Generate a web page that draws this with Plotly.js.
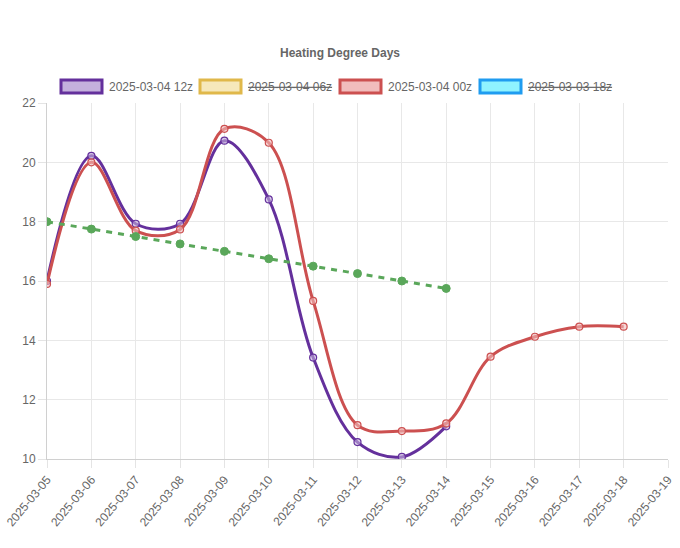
<!DOCTYPE html>
<html>
<head>
<meta charset="utf-8">
<script src="https://cdn.plot.ly/plotly-3.0.1.min.js"></script>
<style>
  html, body { margin: 0; padding: 0; background: #fff; }
  #chart { width: 680px; height: 548px; }
</style>
</head>
<body>
<div id="chart"></div>
<script>
// data
const dates = ['2025-03-05', '2025-03-06', '2025-03-07', '2025-03-08', '2025-03-09',
               '2025-03-10', '2025-03-11', '2025-03-12', '2025-03-13', '2025-03-14',
               '2025-03-15', '2025-03-16', '2025-03-17', '2025-03-18'];
const run12z = [16.0, 20.22, 17.93, 17.93, 20.73, 18.75, 13.42, 10.57, 10.07, 11.1];
const run00z = [15.9, 20.0, 17.7, 17.74, 21.13, 20.66, 15.33, 11.14, 10.94, 11.2,
                13.45, 14.12, 14.46, 14.46];
const normal = [18.0, 17.75, 17.5, 17.25, 17.0, 16.75, 16.5, 16.25, 16.0, 15.75];
const yTicks = [10, 12, 14, 16, 18, 20, 22];

// legend entries (chart.js style, hidden ones struck through)
const legendItems = [
    {label: '2025-03-04 12z', border: '#64309c', fill: '#c4b0dd', hidden: false},
    {label: '2025-03-04 06z', border: '#e0b84a', fill: '#f6e8bb', hidden: true},
    {label: '2025-03-04 00z', border: '#cc5050', fill: '#f1bcbc', hidden: false},
    {label: '2025-03-03 18z', border: '#1f9cf0', fill: '#8ff3ff', hidden: true}
];

const W = 680, H = 548;
const M = {l: 47, r: 12, t: 103, b: 89};
// pixel -> paper helpers for the hand-made legend
function px(x){ return (x - M.l) / (W - M.l - M.r) }
function py(y){ return (H - M.b - y) / (H - M.t - M.b) }

const purple = '#64309c';
const red = '#cc5050';
const green = '#5aa75a';

var traces = [
    {
        x: dates.slice(0, run12z.length), y: run12z,
        name: '2025-03-04 12z', type: 'scatter', mode: 'lines+markers',
        line: {color: purple, width: 3, shape: 'spline', smoothing: 1},
        marker: {size: 7, color: 'rgba(196,176,221,0.6)', line: {color: purple, width: 1.2}},
        showlegend: false
    },
    {
        x: dates, y: run00z,
        name: '2025-03-04 00z', type: 'scatter', mode: 'lines+markers',
        line: {color: red, width: 3, shape: 'spline', smoothing: 1},
        marker: {size: 7, color: 'rgba(241,188,188,0.6)', line: {color: red, width: 1.2}},
        showlegend: false
    },
    {
        x: dates.slice(0, normal.length), y: normal,
        name: 'Normal', type: 'scatter', mode: 'lines+markers',
        line: {color: green, width: 3, dash: '6px,6px'},
        marker: {size: 8, color: green, line: {color: green, width: 1}},
        showlegend: false
    }
];

var shapes = [];
var annotations = [{
    text: '<b>Heating Degree Days</b>',
    xref: 'paper', yref: 'paper', x: px(340), y: py(53),
    xanchor: 'center', yanchor: 'middle', showarrow: false,
    font: {size: 12, color: '#666'}
}];

const boxX = [61, 200, 340, 480];
legendItems.forEach((item, i) => {
    const x0 = boxX[i];
    shapes.push({
        type: 'rect', xref: 'paper', yref: 'paper',
        x0: px(x0), x1: px(x0 + 41), y0: py(80), y1: py(93),
        fillcolor: item.fill, line: {color: item.border, width: 3}
    });
    annotations.push({
        text: item.hidden ? '<s>' + item.label + '</s>' : item.label,
        xref: 'paper', yref: 'paper', x: px(x0 + 46), y: py(87),
        xanchor: 'left', yanchor: 'middle', showarrow: false,
        font: {size: 12, color: '#666'}
    });
});

var layout = {
    width: W, height: H,
    margin: M,
    paper_bgcolor: '#fff', plot_bgcolor: '#fff',
    font: {family: 'Liberation Sans, Arial, sans-serif', size: 12, color: '#666'},
    showlegend: false,
    xaxis: {
        type: 'date',
        range: ['2025-03-05', '2025-03-19'],
        dtick: 86400000,
        tick0: '2025-03-05',
        tickformat: '%Y-%m-%d',
        tickangle: -50,
        ticks: 'outside', ticklen: 8, tickcolor: '#e4e4e4',
        showgrid: true, gridcolor: '#e8e8e8',
        showline: true, linecolor: '#d0d0d0',
        zeroline: false,
        tickfont: {size: 12, color: '#666'}
    },
    yaxis: {
        range: [10, 22],
        tickvals: yTicks,
        ticks: 'outside', ticklen: 8, tickcolor: '#e4e4e4',
        showgrid: true, gridcolor: '#e8e8e8',
        showline: true, linecolor: '#d0d0d0',
        zeroline: false,
        tickfont: {size: 12, color: '#666'}
    },
    shapes: shapes,
    annotations: annotations
};

Plotly.newPlot('chart', traces, layout, {displayModeBar: false, staticPlot: true});
</script>
</body>
</html>
